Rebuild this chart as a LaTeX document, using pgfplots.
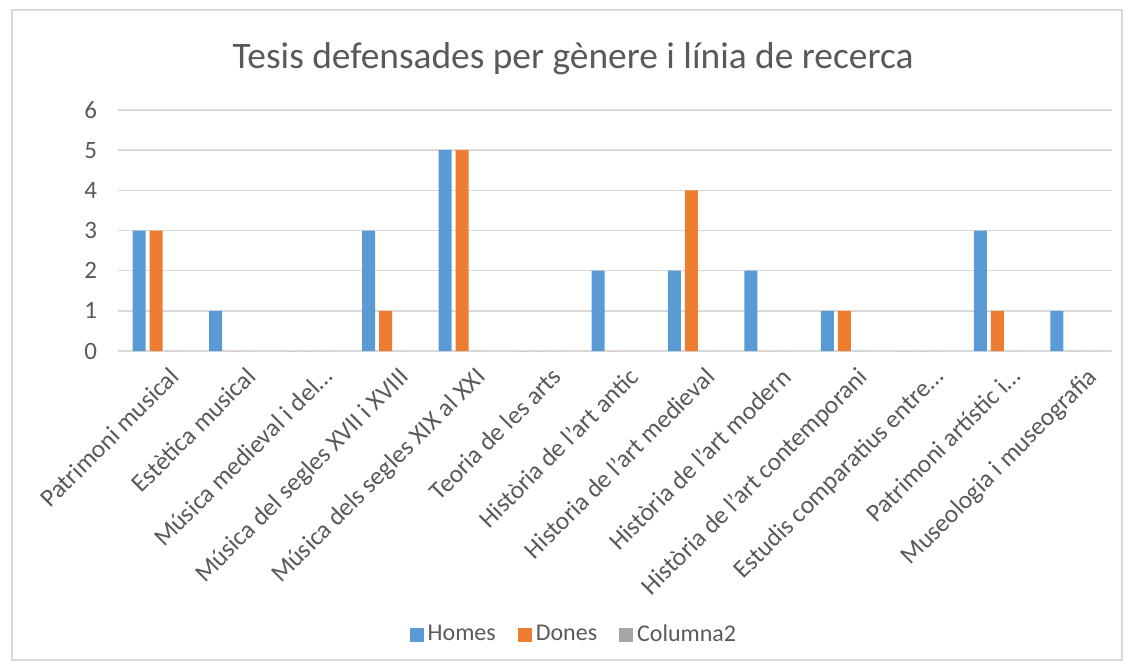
\documentclass[border=0pt]{standalone}
\usepackage{pgfplots}
\pgfplotsset{compat=1.18}
\usepackage{fontspec}
\setmainfont{Carlito}
\definecolor{homes}{HTML}{5B9BD5}
\definecolor{dones}{HTML}{ED7D31}
\definecolor{col2}{HTML}{A5A5A5}
\definecolor{txt}{HTML}{595959}
\definecolor{gridc}{HTML}{D9D9D9}
\begin{document}
\begin{tikzpicture}
\useasboundingbox (0,0) rectangle (565.5pt,333pt);
\draw[gridc, line width=0.6pt] (6pt,3pt) rectangle (561pt,328pt);
\node[txt, font=\fontsize{18.7}{22}\selectfont] at (286.5pt,303.5pt) {Tesis defensades per gènere i línia de recerca};
\begin{axis}[
    at={(59pt,157.5pt)}, anchor=south west,
    scale only axis,
    width=497pt, height=120.5pt,
    ybar=2pt,
    bar width=6.5pt,
    xmin=-0.5, xmax=12.5,
    ymin=0, ymax=6,
    ytick={0,...,6},
    xtick={0,...,12},
    xticklabels={Patrimoni musical, Estètica musical, Música medieval i del…, Música del segles XVII i XVIII, Música dels segles XIX al XXI, Teoria de les arts, Història de l'art antic, Historia de l'art medieval, Història de l'art modern, Història de l'art contemporani, Estudis comparatius entre…, Patrimoni artístic i…, Museologia i museografia},
    xticklabel style={rotate=45, anchor=north east, font=\fontsize{12.7}{15}\selectfont, text=txt, yshift=-6pt, xshift=2.5pt},
    yticklabel style={font=\fontsize{12.5}{14}\selectfont, text=txt, xshift=-7pt},
    /pgf/number format/assume math mode=true,
    major tick length=0pt,
    axis line style={draw=none},
    ymajorgrids=true,
    grid style={gridc, line width=0.8pt},
    legend columns=3,
    legend style={at={(0.4597,-1.177)}, anchor=center, draw=none, fill=none,
        font=\fontsize{12}{14}\selectfont, text=txt,
        /tikz/every even column/.append style={column sep=9pt}},
    legend image code/.code={\fill[#1] (0pt,-3.5pt) rectangle (7pt,3.5pt);},
]
\addplot[fill=homes, draw=none] coordinates {
    (0,3) (1,1) (2,0) (3,3) (4,5) (5,0) (6,2) (7,2) (8,2) (9,1) (10,0) (11,3) (12,1)
};
\addplot[fill=dones, draw=none] coordinates {
    (0,3) (1,0) (2,0) (3,1) (4,5) (5,0) (6,0) (7,4) (8,0) (9,1) (10,0) (11,1) (12,0)
};
\addplot[fill=col2, draw=none] coordinates {
    (0,0) (1,0) (2,0) (3,0) (4,0) (5,0) (6,0) (7,0) (8,0) (9,0) (10,0) (11,0) (12,0)
};
\legend{Homes, Dones, Columna2}
\end{axis}
\end{tikzpicture}
\end{document}
